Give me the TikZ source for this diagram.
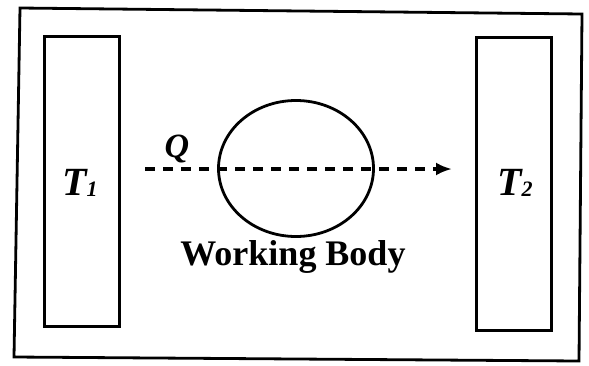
\documentclass[tikz,border=0pt]{standalone}
\usepackage{fontspec}
\setmainfont{Liberation Serif}
\usetikzlibrary{arrows.meta,shapes.geometric}
\tikzset{
  frameline/.style={line width=2.8pt, black},
  reservoir/.style={draw, line width=2.8pt, minimum width=75pt, minimum height=290pt, inner sep=0pt},
  body/.style={draw, line width=2.8pt, ellipse, minimum width=155pt, minimum height=136pt, inner sep=0pt},
  lbl/.style={font=\fontsize{40}{42}\selectfont\bfseries\itshape, inner sep=0pt},
  bodytext/.style={font=\fontsize{36}{38}\selectfont\bfseries, inner sep=0pt},
  flow/.style={line width=3.4pt, dash pattern=on 10pt off 8pt, -{Latex[length=16pt,width=13pt]}}
}
\begin{document}
\begin{tikzpicture}[x=1pt,y=-1pt]
\useasboundingbox (0,0) rectangle (589,365);
\fill[white] (0,0) rectangle (589,365);
\coordinate (f1) at (20,8);
\coordinate (f2) at (582,14);
\coordinate (f3) at (579,361);
\coordinate (f4) at (14,357);
\draw[frameline, line join=miter] (f1) -- (f2) -- (f3) -- (f4) -- cycle;
\node[reservoir] (hot) at (82,181.5) {};
\node[reservoir, minimum height=293pt] (cold) at (514,184) {};
\node[body] (wb) at (296,168.5) {};
\node[lbl] (t1) at (80,183) {T\raisebox{-0.02em}{\fontsize{22}{24}\selectfont 1}};
\node[lbl] (t2) at (515,183) {T\raisebox{-0.02em}{\fontsize{22}{24}\selectfont 2}};
\coordinate (qs) at (145,169);
\coordinate (qe) at (452,169);
\draw[flow] (qs) -- (qe);
\node[lbl, font=\fontsize{34}{36}\selectfont\bfseries\itshape] (q) at (177,149) {Q};
\node[bodytext] (wbl) at (293,257) {Working Body};
\end{tikzpicture}
\end{document}
